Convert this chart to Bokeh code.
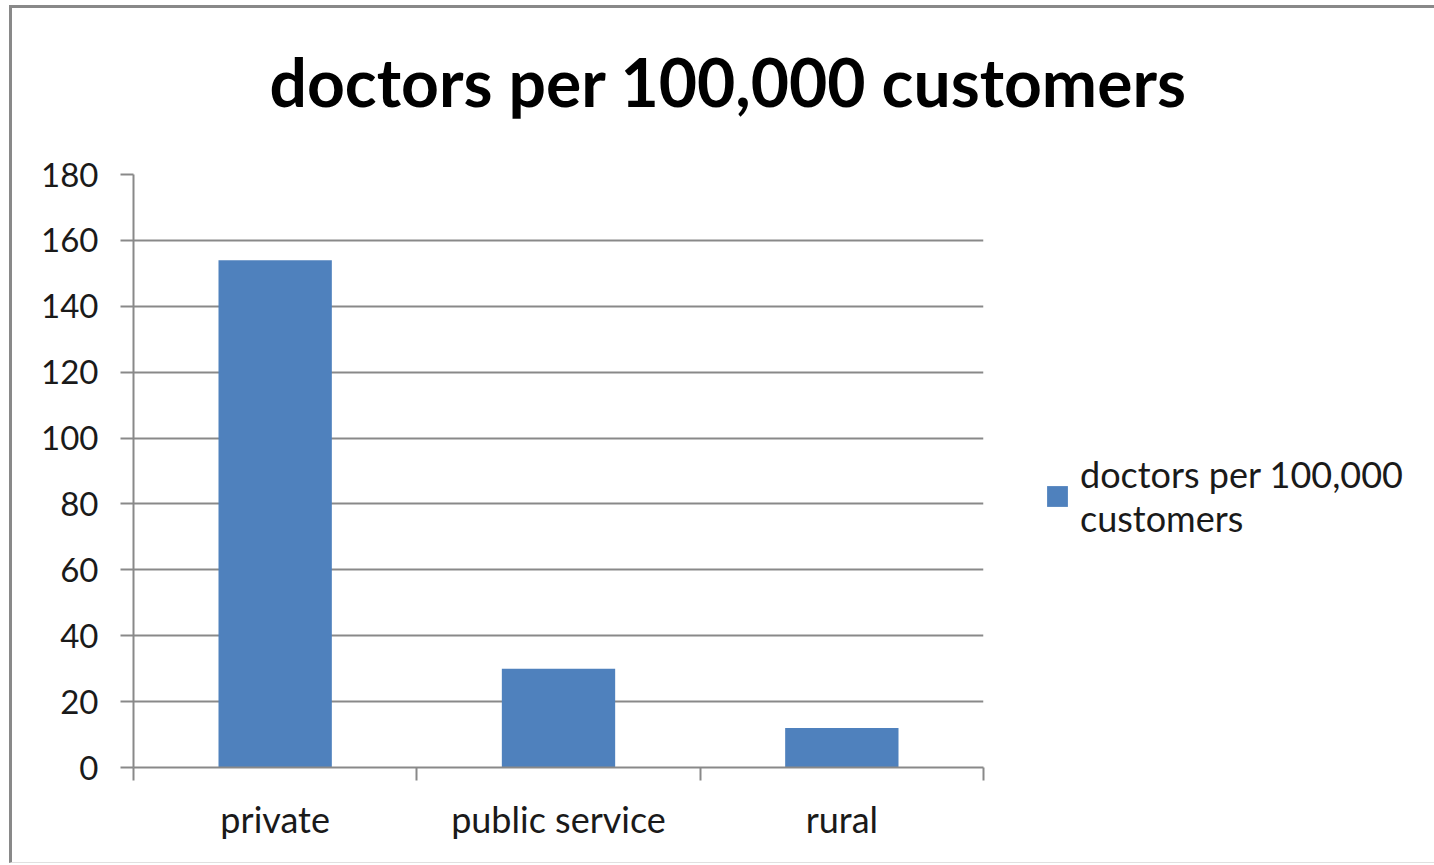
from bokeh.plotting import figure
from bokeh.models import Range1d, FixedTicker, Legend, LegendItem, Title
from bokeh.embed import file_html
from bokeh.resources import INLINE

# data
categories = ["private", "public service", "rural"]
values = [154, 30, 12]
series_name = "doctors per 100,000 customers"
legend_label = "doctors per 100,000\ncustomers"
y_ticks = [0, 20, 40, 60, 80, 100, 120, 140, 160, 180]

BLUE = "#4F81BD"
GRID = "#898989"
FONT = "Lato"
TXT = "#1a1a1a"

xs = [i + 0.5 for i in range(len(categories))]
bounds = [float(i) for i in range(len(categories) + 1)]

p = figure(frame_width=850, frame_height=593, output_backend="svg", toolbar_location=None,
           x_range=Range1d(0, len(categories)), y_range=Range1d(0, 180),
           min_border_left=121, min_border_right=445, min_border_top=166,
           min_border_bottom=95)
p.outline_line_color = None
p.background_fill_color = "white"
p.border_fill_color = "white"

r = p.vbar(x=xs, top=values, width=0.4, fill_color=BLUE, line_color=None)

# title: a thin spacer keeps the title well above the plot area
p.add_layout(Title(text=" ", text_font_size="10px", standoff=41), "above")
p.add_layout(Title(text=series_name, align="left", offset=136,
                   text_font=FONT, text_font_size="66px", text_font_style="bold",
                   text_color="black", standoff=0), "above")

# y axis
ya = p.yaxis[0]
ya.ticker = FixedTicker(ticks=y_ticks)
ya.axis_line_color = GRID
ya.axis_line_width = 2
ya.major_tick_line_color = GRID
ya.major_tick_line_width = 2
ya.major_tick_out = 13
ya.major_tick_in = 0
ya.minor_tick_line_color = None
ya.major_label_text_font = FONT
ya.major_label_text_font_size = "33px"
ya.major_label_text_color = TXT
ya.major_label_standoff = 22

# x axis: labels at category centers, tick marks at category boundaries
xa = p.xaxis[0]
xa.ticker = FixedTicker(ticks=xs, minor_ticks=bounds)
xa.major_label_overrides = {x: c for x, c in zip(xs, categories)}
xa.axis_line_color = GRID
xa.axis_line_width = 2
xa.major_tick_line_color = None
xa.minor_tick_line_color = GRID
xa.minor_tick_line_width = 2
xa.minor_tick_out = 13
xa.minor_tick_in = 0
xa.major_label_text_font = FONT
xa.major_label_text_font_size = "36px"
xa.major_label_text_color = TXT
xa.major_label_standoff = 16

p.xgrid.grid_line_color = None
p.ygrid.ticker = FixedTicker(ticks=y_ticks)
p.ygrid.grid_line_color = GRID
p.ygrid.grid_line_width = 2

legend = Legend(items=[LegendItem(label=legend_label, renderers=[r])],
                location=(61, 227), border_line_color=None,
                background_fill_alpha=0,
                label_text_font=FONT, label_text_font_size="36px",
                label_text_color=TXT, label_text_line_height=1.4,
                glyph_width=26, glyph_height=26, label_standoff=10,
                margin=0, padding=0)
p.add_layout(legend, "right")

p.styles = {"margin-left": "9px", "margin-top": "5px",
            "border-top": "3px solid #898989", "border-left": "3px solid #898989",
            "border-right": "1px solid #e0e0e0", "border-bottom": "1px solid #e0e0e0"}

open("out.html", "w").write(file_html(p, INLINE))
